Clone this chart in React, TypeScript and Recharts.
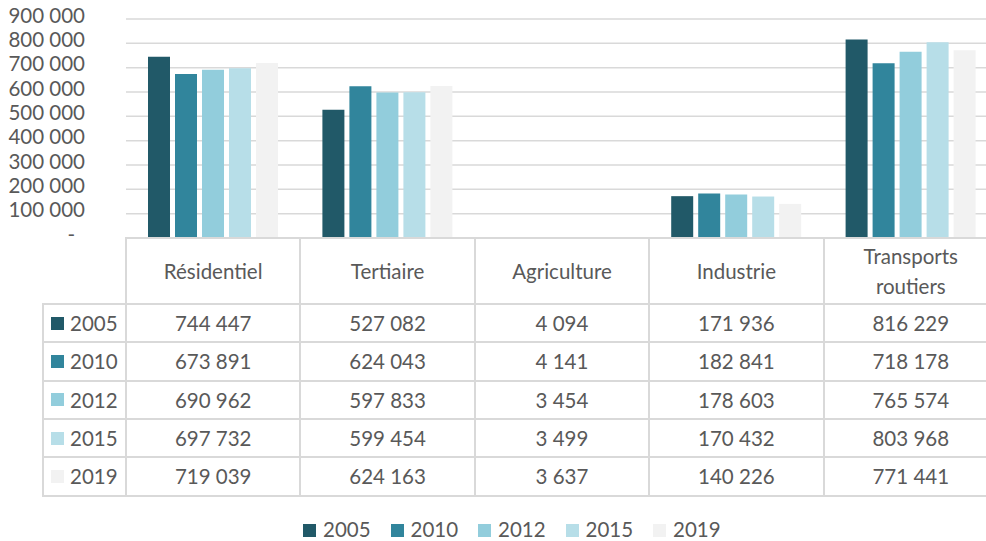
import { BarChart, Bar, XAxis, YAxis, CartesianGrid } from "recharts";

const categories = ["Résidentiel", "Tertiaire", "Agriculture", "Industrie", "Transports routiers"];
const years = ["2005", "2010", "2012", "2015", "2019"];
const values2005 = [744447, 527082, 4094, 171936, 816229];
const values2010 = [673891, 624043, 4141, 182841, 718178];
const values2012 = [690962, 597833, 3454, 178603, 765574];
const values2015 = [697732, 599454, 3499, 170432, 803968];
const values2019 = [719039, 624163, 3637, 140226, 771441];
const yTicks = [0, 100000, 200000, 300000, 400000, 500000, 600000, 700000, 800000, 900000];

const series = [values2005, values2010, values2012, values2015, values2019];
const colors = ["#215968", "#31859C", "#92CDDC", "#B7DEE8", "#F2F2F2"];

const data = categories.map((name, i) => {
  const row: Record<string, string | number> = { name };
  years.forEach((y, k) => (row[y] = series[k][i]));
  return row;
});

const FONT = "Lato, 'Open Sans', sans-serif";
const FS = 20.5;
const TEXT = "#595959";
const LINE = "#D9D9D9";

const fmt = (n: number) => String(n).replace(/\B(?=(\d{3})+(?!\d))/g, " ");

// table geometry
const colW = 174.4;
const colX = [126, 126 + colW, 126 + 2 * colW, 126 + 3 * colW, 126 + 4 * colW, 126 + 5 * colW];
const keyX = 42;
const tableTop = 237;
const headBottom = 304;
const rowH = 38.3;
const tableBottom = headBottom + rowH * 5;

function YTick(props: any) {
  const { x, y, payload } = props;
  const v = payload.value as number;
  return (
    <text
      x={v === 0 ? x - 10 : x}
      y={y - 3.5}
      dy="0.355em"
      textAnchor="end"
      fill={TEXT}
      fontSize={FS}
      fontFamily={FONT}
    >
      {v === 0 ? "-" : fmt(v)}
    </text>
  );
}

function Line({ x, y, w, h }: { x: number; y: number; w: number; h: number }) {
  return <div style={{ position: "absolute", left: x, top: y, width: w, height: h, background: LINE }} />;
}

export default function App() {
  const lines = [];
  lines.push(<Line key="h0" x={colX[0]} y={tableTop} w={colX[5] - colX[0]} h={2} />);
  for (let r = 0; r <= 5; r++) {
    lines.push(<Line key={"h" + (r + 1)} x={keyX} y={headBottom + r * rowH - 1} w={colX[5] - keyX} h={2} />);
  }
  lines.push(<Line key="vk" x={keyX} y={headBottom - 1} w={2} h={tableBottom - headBottom + 2} />);
  colX.forEach((x, i) =>
    lines.push(<Line key={"v" + i} x={x - 1} y={tableTop} w={2} h={tableBottom - tableTop + 1} />)
  );

  return (
    <div
      style={{
        position: "absolute",
        left: 0,
        top: 0,
        width: 986,
        height: 541,
        overflow: "hidden",
        background: "#fff",
        fontFamily: FONT,
        color: TEXT,
      }}
    >
      <BarChart
        width={998}
        height={252}
        data={data}
        margin={{ top: 19, right: 0, bottom: 14, left: 0 }}
        barCategoryGap={22}
        barGap={5}
      >
        <CartesianGrid vertical={false} stroke={LINE} strokeWidth={1.5} />
        <XAxis dataKey="name" hide />
        <YAxis
          width={126}
          domain={[0, 900000]}
          ticks={yTicks}
          axisLine={false}
          tickLine={false}
          tickSize={0}
          tickMargin={41}
          tick={<YTick />}
          interval={0}
        />
        {years.map((y, k) => (
          <Bar key={y} dataKey={y} fill={colors[k]} isAnimationActive={false} />
        ))}
      </BarChart>

      {lines}

      {categories.map((c, i) => (
        <div
          key={c}
          style={{
            position: "absolute",
            left: colX[i],
            top: tableTop,
            width: colW,
            height: headBottom - tableTop,
            display: "flex",
            alignItems: "center",
            justifyContent: "center",
            textAlign: "center",
            fontSize: FS,
            lineHeight: "30px",
            padding: "0 30px",
            boxSizing: "border-box",
          }}
        >
          {c}
        </div>
      ))}

      {years.map((y, k) => (
        <div key={y}>
          <div
            style={{
              position: "absolute",
              left: keyX,
              top: headBottom + k * rowH,
              width: colX[0] - keyX,
              height: rowH,
              display: "flex",
              alignItems: "center",
              fontSize: FS,
              lineHeight: "24px",
            }}
          >
            <span style={{ display: "inline-block", width: 13, height: 13, background: colors[k], marginLeft: 9, marginRight: 6 }} />
            <span>{y}</span>
          </div>
          {series[k].map((v, i) => (
            <div
              key={i}
              style={{
                position: "absolute",
                left: colX[i],
                top: headBottom + k * rowH,
                width: colW,
                height: rowH,
                display: "flex",
                alignItems: "center",
                justifyContent: "center",
                fontSize: FS,
                lineHeight: "24px",
              }}
            >
              {fmt(v)}
            </div>
          ))}
        </div>
      ))}

      <div style={{ position: "absolute", left: 303, top: 517, height: 24, display: "flex", alignItems: "center" }}>
        {years.map((y, k) => (
          <div key={y} style={{ width: 87.5, display: "flex", alignItems: "center", fontSize: FS, lineHeight: "24px" }}>
            <span style={{ display: "inline-block", width: 13, height: 13, background: colors[k], marginRight: 7, marginTop: 3 }} />
            <span>{y}</span>
          </div>
        ))}
      </div>
    </div>
  );
}
